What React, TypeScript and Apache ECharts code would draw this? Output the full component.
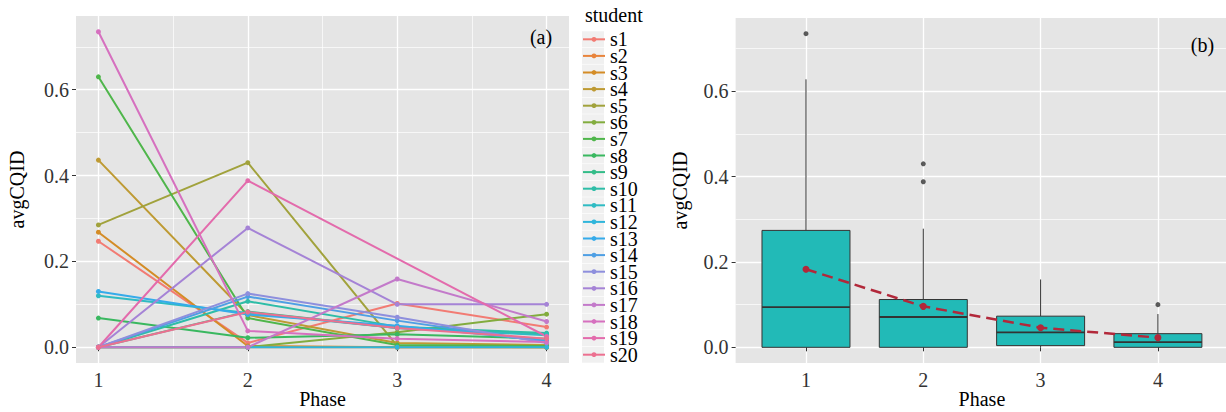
import React, { useEffect, useRef } from "react";
import * as echarts from "echarts";

// ---------- data ----------
const phases = [1, 2, 3, 4];
const phaseTickValues = [1, 2, 3, 4];
const yTickValues = [0, 0.2, 0.4, 0.6];

const students = [
  "s1", "s2", "s3", "s4", "s5", "s6", "s7", "s8", "s9", "s10",
  "s11", "s12", "s13", "s14", "s15", "s16", "s17", "s18", "s19", "s20",
];
const studentColors = [
  "#F27B73", "#E8843C", "#D48C26", "#BE9A33", "#A1A23C", "#82AC3E", "#4FB64B", "#3AB860", "#33BC88", "#2EBDA7",
  "#2FBBC3", "#2FB5DB", "#35ABEA", "#4E9FE4", "#8E8FDD", "#A583D6", "#C37ACA", "#D670BF", "#E36BAC", "#EC7090",
];

// avgCQID per phase (1..4); null = missing
const s1 = [0.247, 0.01, 0.102, 0.047];
const s2 = [0.0, 0.0, 0.0, 0.0];
const s3 = [0.268, 0.003, 0.0, 0.0];
const s4 = [0.436, 0.075, 0.01, 0.005];
const s5 = [0.285, 0.43, 0.003, 0.0];
const s6 = [0.0, 0.0, 0.035, 0.077];
const s7 = [0.63, 0.068, 0.005, 0.003];
const s8 = [0.068, 0.022, 0.03, 0.02];
const s9 = [0.0, 0.083, 0.045, 0.03];
const s10 = [0.0, 0.107, 0.048, 0.033];
const s11 = [0.12, 0.08, 0.045, 0.028];
const s12 = [0.0, 0.0, 0.0, 0.0];
const s13 = [0.13, 0.076, 0.05, 0.015];
const s14 = [0.0, 0.118, 0.062, 0.012];
const s15 = [0.0, 0.125, 0.07, 0.01];
const s16 = [0.0, 0.278, 0.1, 0.1];
const s17 = [0.0, 0.0, 0.159, 0.06];
const s18 = [0.735, 0.038, 0.02, 0.012];
const s19 = [0.0, 0.388, null, 0.025];
const s20 = [0.0, 0.082, 0.045, 0.02];
const studentValues: (number | null)[][] = [
  s1, s2, s3, s4, s5, s6, s7, s8, s9, s10, s11, s12, s13, s14, s15, s16, s17, s18, s19, s20,
];

// box plot statistics per phase
const whiskerLow = [0.0, 0.0, 0.0, 0.0];
const boxQ1 = [0.0, 0.0, 0.004, 0.0];
const boxMedian = [0.094, 0.071, 0.035, 0.012];
const boxQ3 = [0.274, 0.112, 0.073, 0.032];
const whiskerHigh = [0.628, 0.278, 0.159, 0.078];
const outlierPhase = [1, 2, 2, 4];
const outlierValue = [0.735, 0.43, 0.388, 0.1];
const phaseMeans = [0.183, 0.096, 0.046, 0.0227];

// ---------- style ----------
const FONT = "Liberation Serif";
const TICK_SIZE = 20;
const TITLE_SIZE = 20;
const PANEL_BG = "#E5E5E5";
const Y_MIN = -0.03675;
const Y_MAX = 0.77175;

function tickStyle(values: number[]) {
  return { show: true, length: 4, customValues: values, lineStyle: { color: "#333", width: 1 } };
}
function labelStyle(values: number[], fmt: (v: number) => string) {
  return {
    customValues: values,
    margin: 7,
    color: "#333",
    fontSize: TICK_SIZE,
    fontFamily: FONT,
    formatter: fmt,
  };
}
function valueAxisCommon(extra: any) {
  return {
    type: "value",
    axisLine: { show: false },
    splitLine: { show: true, lineStyle: { color: "#ffffff", width: 1.3 } },
    nameMoveOverlap: false,
    nameTextStyle: { color: "#000", fontSize: TITLE_SIZE, fontFamily: FONT },
    ...extra,
  };
}

export default function App() {
  const ref = useRef<HTMLDivElement>(null);

  useEffect(() => {
    if (!ref.current) return;
    const chart = echarts.init(ref.current, null, { renderer: "svg" });

    const lineSeries = students.map((name, si) => ({
      name,
      type: "line",
      xAxisIndex: 0,
      yAxisIndex: 0,
      data: phases
        .map((p, i) => [p, studentValues[si][i]])
        .filter((d) => d[1] !== null),
      connectNulls: true,
      symbol: "circle",
      symbolSize: 5,
      showSymbol: true,
      color: studentColors[si],
      lineStyle: { width: 2, color: studentColors[si] },
      itemStyle: { color: studentColors[si] },
      z: 2,
    }));

    const legendFont = 20;
    const legendPitch = 16.6;
    const firstCenter = 39.3;
    const legendTop = firstCenter - legendFont / 2;
    const keyRects = students.map((_, i) => ({
      type: "rect",
      left: 582,
      top: firstCenter + i * legendPitch - 8,
      shape: { width: 22, height: 16 },
      style: { fill: "#F0F0F0" },
      z: 0,
    }));

    const fmtInt = (v: number) => String(Math.round(v));
    const fmtDec = (v: number) => v.toFixed(1);

    const option: any = {
      animation: false,
      backgroundColor: "#ffffff",
      textStyle: { fontFamily: FONT },
      grid: [
        { left: 76, top: 16, width: 493, height: 347, show: true, backgroundColor: PANEL_BG, borderWidth: 0, containLabel: false, outerBoundsMode: "none" },
        { left: 735.6, top: 18, width: 492.7, height: 345, show: true, backgroundColor: PANEL_BG, borderWidth: 0, containLabel: false, outerBoundsMode: "none" },
      ],
      xAxis: [
        valueAxisCommon({
          gridIndex: 0,
          min: 0.85,
          max: 4.15,
          splitNumber: 3,
          axisTick: tickStyle(phaseTickValues),
          axisLabel: labelStyle(phaseTickValues, fmtInt),
          minorTick: { show: false, splitNumber: 2 },
          minorSplitLine: { show: true, lineStyle: { color: "#ffffff", width: 0.7 } },
          name: "Phase",
          nameLocation: "middle",
          nameGap: 26,
        }),
        valueAxisCommon({
          gridIndex: 1,
          min: 0.4,
          max: 4.6,
          splitNumber: 4,
          axisTick: tickStyle(phaseTickValues),
          axisLabel: labelStyle(phaseTickValues, fmtInt),
          minorSplitLine: { show: false },
          name: "Phase",
          nameLocation: "middle",
          nameGap: 26,
        }),
      ],
      yAxis: [
        valueAxisCommon({
          gridIndex: 0,
          min: Y_MIN,
          max: Y_MAX,
          splitNumber: 5,
          axisTick: tickStyle(yTickValues),
          axisLabel: labelStyle(yTickValues, fmtDec),
          minorTick: { show: false, splitNumber: 2 },
          minorSplitLine: { show: true, lineStyle: { color: "#ffffff", width: 0.7 } },
          name: "avgCQID",
          nameLocation: "middle",
          nameGap: 49,
        }),
        valueAxisCommon({
          gridIndex: 1,
          min: Y_MIN,
          max: Y_MAX,
          splitNumber: 5,
          axisTick: tickStyle(yTickValues),
          axisLabel: labelStyle(yTickValues, fmtDec),
          minorTick: { show: false, splitNumber: 2 },
          minorSplitLine: { show: true, lineStyle: { color: "#ffffff", width: 0.7 } },
          name: "avgCQID",
          nameLocation: "middle",
          nameGap: 46,
        }),
      ],
      legend: {
        show: true,
        type: "plain",
        orient: "vertical",
        left: 582,
        top: legendTop,
        height: 380,
        padding: 0,
        itemWidth: 22,
        itemHeight: 6,
        itemGap: legendPitch - legendFont,
        selectedMode: false,
        data: students,
        textStyle: { color: "#000", fontSize: legendFont, fontFamily: FONT, lineHeight: legendFont },
      },
      graphic: [
        ...keyRects,
        { type: "text", left: 585, top: 5, style: { text: "student", fill: "#000", fontSize: 20, fontFamily: FONT }, z: 5 },
        { type: "text", x: 541, y: 37, style: { text: "(a)", fill: "#000", fontSize: 20, fontFamily: FONT, align: "center", verticalAlign: "middle" }, z: 5 },
        { type: "text", x: 1202.5, y: 45, style: { text: "(b)", fill: "#000", fontSize: 20, fontFamily: FONT, align: "center", verticalAlign: "middle" }, z: 5 },
      ],
      series: [
        ...lineSeries,
        {
          type: "custom",
          name: "box",
          xAxisIndex: 1,
          yAxisIndex: 1,
          z: 2,
          encode: { x: 0, y: [1, 2, 3, 4, 5] },
          data: phases.map((p, i) => [p, whiskerLow[i], boxQ1[i], boxMedian[i], boxQ3[i], whiskerHigh[i]]),
          renderItem: (params: any, api: any) => {
            const x = api.value(0);
            const pLo = api.coord([x, api.value(1)]);
            const pQ1 = api.coord([x, api.value(2)]);
            const pMed = api.coord([x, api.value(3)]);
            const pQ3 = api.coord([x, api.value(4)]);
            const pHi = api.coord([x, api.value(5)]);
            const halfW = api.size([0.75, 0])[0] / 2;
            const cx = pQ3[0];
            return {
              type: "group",
              children: [
                { type: "line", shape: { x1: cx, y1: pHi[1], x2: cx, y2: pQ3[1] }, style: { stroke: "#333", lineWidth: 1 } },
                { type: "line", shape: { x1: cx, y1: pQ1[1], x2: cx, y2: pLo[1] }, style: { stroke: "#333", lineWidth: 1 } },
                {
                  type: "rect",
                  shape: { x: cx - halfW, y: pQ3[1], width: halfW * 2, height: Math.max(pQ1[1] - pQ3[1], 0.5) },
                  style: { fill: "#22BAB7", stroke: "#333", lineWidth: 1 },
                },
                { type: "line", shape: { x1: cx - halfW, y1: pMed[1], x2: cx + halfW, y2: pMed[1] }, style: { stroke: "#333", lineWidth: 1.8 } },
              ],
            };
          },
        },
        {
          type: "scatter",
          name: "outliers",
          xAxisIndex: 1,
          yAxisIndex: 1,
          z: 3,
          symbol: "circle",
          symbolSize: 5,
          itemStyle: { color: "#333" },
          data: outlierPhase.map((p, i) => [p, outlierValue[i]]),
        },
        {
          type: "line",
          name: "mean",
          xAxisIndex: 1,
          yAxisIndex: 1,
          z: 4,
          symbol: "circle",
          symbolSize: 7,
          lineStyle: { color: "#B2283A", width: 2.5, type: [11, 6] },
          itemStyle: { color: "#B2283A" },
          data: phases.map((p, i) => [p, phaseMeans[i]]),
        },
      ],
    };

    chart.setOption(option);
    return () => {
      chart.dispose();
    };
  }, []);

  return (
    <div
      ref={ref}
      style={{ position: "fixed", left: 0, top: 0, width: 1226, height: 412, background: "#fff" }}
    />
  );
}
